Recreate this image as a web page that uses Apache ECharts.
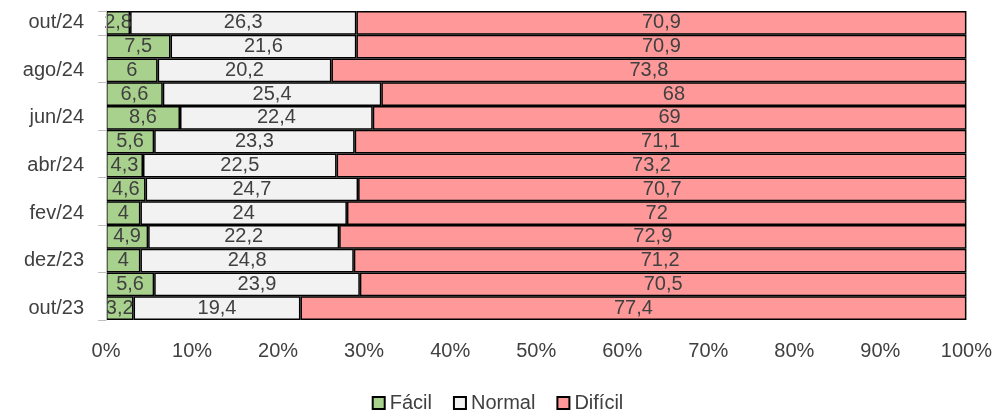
<!DOCTYPE html>
<html>
<head>
<meta charset="utf-8">
<script src="https://cdn.jsdelivr.net/npm/echarts@6/dist/echarts.min.js"></script>
<style>
  html, body { margin: 0; padding: 0; background: #fff; }
  #chart { width: 995px; height: 412px; }
</style>
</head>
<body>
<div id="chart"></div>
<script>
// meses, de baixo para cima
const categories = ['out/23', 'nov/23', 'dez/23', 'jan/24', 'fev/24', 'mar/24', 'abr/24', 'mai/24', 'jun/24', 'jul/24', 'ago/24', 'set/24', 'out/24']
const facil = [3.2, 5.6, 4, 4.9, 4, 4.6, 4.3, 5.6, 8.6, 6.6, 6, 7.5, 2.8]
const normal = [19.4, 23.9, 24.8, 22.2, 24, 24.7, 22.5, 23.3, 22.4, 25.4, 20.2, 21.6, 26.3]
const dificil = [77.4, 70.5, 71.2, 72.9, 72, 70.7, 73.2, 71.1, 69, 68, 73.8, 70.9, 70.9]
const xTicks = [0, 10, 20, 30, 40, 50, 60, 70, 80, 90, 100]

const font = 'Liberation Sans, Noto Sans, sans-serif'
const textcolor = '#404040'

function makeSeries(name, data, color) {
  return {
    name: name,
    type: 'bar',
    stack: 'total',
    data: data,
    barCategoryGap: 0,
    itemStyle: { color: color, borderColor: '#000', borderWidth: 1.5 },
    label: {
      show: true,
      position: 'inside',
      color: textcolor,
      fontFamily: font,
      fontSize: 20,
      formatter: (p) => String(p.value).replace('.', ','),
    },
  }
}

let myChart = echarts.init(document.getElementById('chart'))
myChart.setOption({
  animation: false,
  grid: { left: 106, right: 28, top: 11, bottom: 92 },
  xAxis: {
    type: 'value',
    min: xTicks[0],
    max: xTicks[xTicks.length - 1],
    interval: 10,
    splitLine: { show: false },
    axisLine: { show: false },
    axisTick: { show: false },
    axisLabel: {
      color: textcolor,
      fontFamily: font,
      fontSize: 20,
      margin: 21,
      formatter: (v) => v + '%',
    },
  },
  yAxis: {
    type: 'category',
    data: categories,
    z: 5,
    axisLine: { show: true, lineStyle: { color: '#bfbfbf' } },
    axisTick: { show: true, interval: 1, length: 8, lineStyle: { color: '#bfbfbf' } },
    axisLabel: {
      interval: 1,
      color: textcolor,
      fontFamily: font,
      fontSize: 20,
      margin: 22,
    },
  },
  legend: {
    top: 388,
    left: 'center',
    itemWidth: 12,
    itemHeight: 12,
    itemGap: 21,
    icon: 'rect',
    textStyle: { color: textcolor, fontFamily: font, fontSize: 20 },
  },
  series: [
    makeSeries('Fácil', facil, '#a9d18e'),
    makeSeries('Normal', normal, '#f2f2f2'),
    makeSeries('Difícil', dificil, '#ff9999'),
  ],
})
</script>
</body>
</html>
